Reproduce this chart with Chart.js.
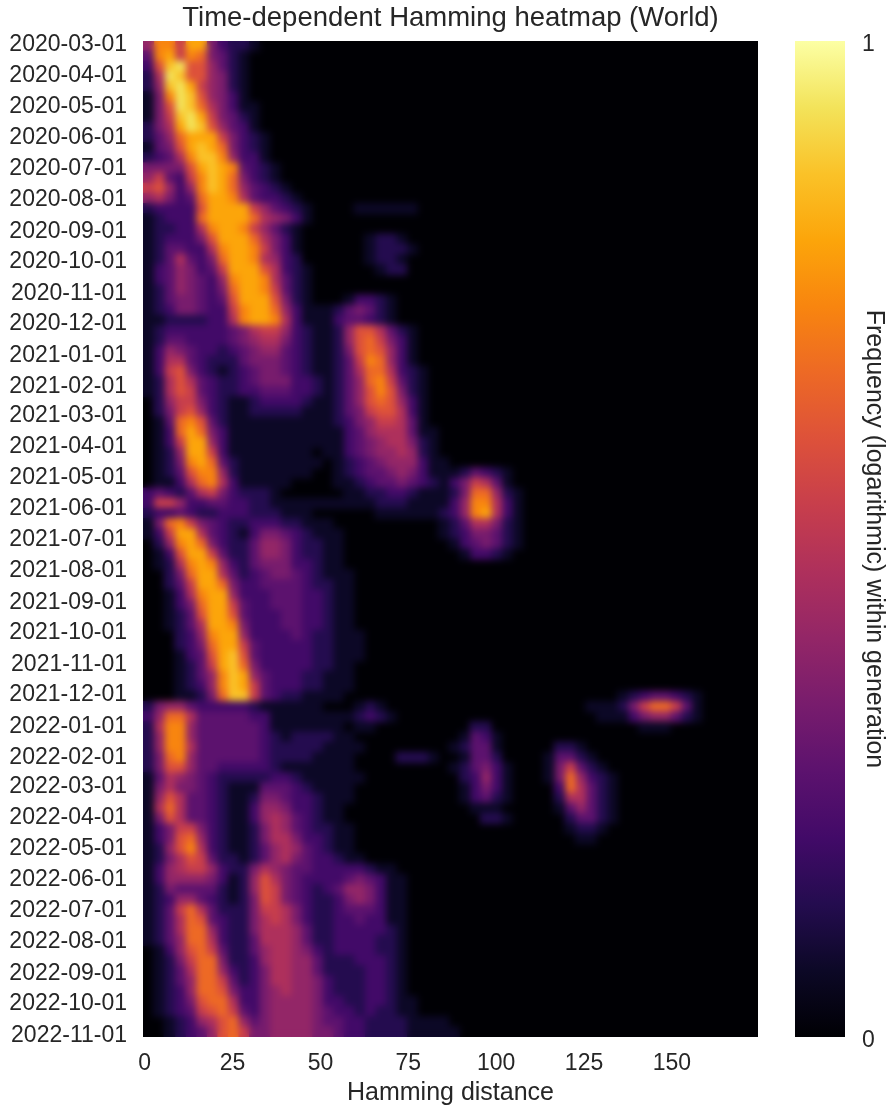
<!DOCTYPE html>
<html>
<head>
<meta charset="utf-8">
<title>Time-dependent Hamming heatmap (World)</title>
<script src="https://cdn.jsdelivr.net/npm/chart.js@4"></script>
<style>
  html, body { margin: 0; background: #fff; }
  #page { position: relative; width: 889px; height: 1108px; overflow: hidden; }
  canvas { position: absolute; top: 0; }
  #heat { left: 0; }
  #bar { left: 770px; }
</style>
</head>
<body>
<div id="page">
  <canvas id="heat" width="770" height="1108"></canvas>
  <canvas id="bar" width="119" height="1108"></canvas>
</div>
<script>
const monthLabels = [
    '2020-03-01', '2020-04-01', '2020-05-01', '2020-06-01', '2020-07-01', '2020-08-01', '2020-09-01',
    '2020-10-01', '2020-11-01', '2020-12-01', '2021-01-01', '2021-02-01', '2021-03-01', '2021-04-01',
    '2021-05-01', '2021-06-01', '2021-07-01', '2021-08-01', '2021-09-01', '2021-10-01', '2021-11-01',
    '2021-12-01', '2022-01-01', '2022-02-01', '2022-03-01', '2022-04-01', '2022-05-01', '2022-06-01',
    '2022-07-01', '2022-08-01', '2022-09-01', '2022-10-01', '2022-11-01'
];
const xTickValues = [0, 25, 50, 75, 100, 125, 150];
const barTickValues = [0, 1];

// one string per 10 days, one hex digit per 3 Hamming units, level 0-f
const heat2020 = [
    '6bb8cc5322 1',
    '4bc8ba5421',
    '39de996421',
    '27ed996521',
    '26dec86521',
    '15bed96531',
    '159eda7531 1',
    '158dec8542 1',
    '257ced9643 1',
    '246accc853 21',
    '1459cdca53 21',
    '2347bddb63 31',
    '55559cdcb4 321',
    '68438bdca5 321',
    '89636bdca6 4321',
    '67534accb7 43321',
    '233339cccc 8643210000 111111',
    '12333acccc a76531',
    '122337bccb 86421',
    '1233359ccc a753100000 01221',
    '1244337bcc b853100000 01222 1',
    '1247435acc b763200000 01221',
    '13465348cc c973210000 00122',
    '13465436bc cb7421',
    '12465435ac cb8421',
    '124554349c cc95210001 3321',
    '123554338b cca6311124 5421',
    '112222337b ccb7311134 4321',
    '1233333345 7886321126 997421',
    '1244333345 6775321126 9a8531',
    '1365433234 5664321125 9a9631'
];
const heat2021 = [
    '1377432224 5554321124 8ba631',
    '1389532123 4554321124 7aa7321',
    '1279743223 4555332124 6ab8421',
    '1279843223 3444332124 69b9521',
    '0268853211 2333321124 69a9631',
    '0258963211 2222211124 5899731',
    '014ab94211 1111111123 5688741',
    '013aca5311 1111111113 46777411',
    '0138cc6311 1111111113 45677521',
    '0126cc8311 1111110113 45667621',
    '0125bca421 1111111012 34566631 1',
    '01249bb621 1111110012 3445653111 24321',
    '01137ab731 1111000011 2344543213 58741',
    '3432478532 2210000001 1223321112 5aa621',
    '3886334433 2211111111 1122211113 6bb731',
    '2334322333 2221110000 0011111123 6bc731',
    '15ab854322 3332211100 0000000012 477521',
    '138cc74321 3554321110 0000000012 355421',
    '026bca5322 4665322110 0000000001 345421',
    '0139cc8422 4665322110 0000000000 13321',
    '0127bcb632 4555332 11',
    '0025acc742 3455432111',
    '00248cca53 3444432211',
    '00137bcc63 3344433211',
    '00135acc84 3344433211',
    '001249cc94 3334433211',
    '001247ccb5 3334433211',
    '000236bcc6 3333432211 1',
    '000235acc8 4333332211 1',
    '0001349cd9 4333332211 1',
    '0001248cda 5333332211',
    '0001246bdc 6433322111',
    '0001236bdc 8433322111',
    '0001125add 8432211110 0000000000 0000000000 0000012344 321',
    '2566433333 2111111000 1210000000 0000000000 0011125 8aa 841',
    '36aa744444 3311111111 2321000000 0000000000 0001113566 421'
];
const heat2022 = [
    '27bb644444 4311111110 1100000000 0220000000 0000000111',
    '26bb644444 4321222211 0000000000 1431',
    '26bb744444 4322222111 1000000001 2441000002 21',
    '25ab644444 4322221111 0000222100 1442000014 421',
    '2599644333 3321111111 0000000001 2453100015 8421',
    '1476543222 2233211111 1000000000 2363100015 a6321',
    '1575543211 1444321111 0000000000 1353100003 a7421',
    '1697443211 2554332111 0000000000 1342100002 77421',
    '17a7443211 3665332110 0000000000 0111000001 46421',
    '1597443211 3676432110 0000000000 0022100000 24421',
    '1358853211 2576432211 0000000000 0000000000 1221',
    '1359a63211 2577533211 0000000000 0000000000 011',
    '1269b73211 2467643211',
    '1257984221 2467543321 1',
    '1367886322 5765443333 3211',
    '1366665312 6975433334 54311',
    '1254444212 6985432346 65311',
    '1236643212 5985432235 65311',
    '1248a74222 5887532234 44311',
    '1247a94322 5787532233 43311',
    '1247aa6322 5777642233 33321',
    '1246aa7322 4777642233 33221',
    '01369a8422 4677653233 33221',
    '01258aa522 3677664222 33321',
    '01247aa632 3577664222 23321',
    '01246aa842 3577665322 23321',
    '01236aa953 3567665322 23321',
    '012359aa73 3566665332 233211',
    '0123489a84 3566665433 232211',
    '00123679a6 4566665443 3222211 11',
    '00123469a8 5566665543 3222211 111'
];

// inferno colours, one per level
const levelColors = [
    '#000004', '#0c0826', '#240c4f', '#420a68', '#5c126e', '#781c6d', '#932667', '#ae305c',
    '#c73e4c', '#dd513a', '#ed6925', '#f8850f', '#fca50a', '#fac228', '#f3e35a', '#fcffa4'
];
const textColor = '#262626';
const fontFamily = '"Liberation Sans", Arial, sans-serif';

const heatRows = heat2020.concat(heat2021, heat2022);
const DAYS_PER_ROW = 10;
const UNITS_PER_COL = 3;

const monthDays = monthLabels.map(label =>
    Math.round((Date.parse(label) - Date.parse(monthLabels[0])) / 86400000));

// every column of the heatmap is one dataset of floating bars
function buildColumns() {
    const columns = [];
    heatRows.forEach((row, r) => {
        const digits = row.replace(/ /g, '');
        for (let c = 0; c < digits.length; c++) {
            const level = parseInt(digits[c], 16);
            if (!level) continue;
            if (!columns[c]) columns[c] = [];
            columns[c].push({
                x: [c * UNITS_PER_COL - 0.5, (c + 1) * UNITS_PER_COL - 0.5],
                y: r * DAYS_PER_ROW + DAYS_PER_ROW / 2 - 0.5,
                level: level
            });
        }
    });
    return columns.filter(Boolean).map(points => ({
        data: points,
        backgroundColor: ctx => levelColors[ctx.raw ? ctx.raw.level : 0],
        borderWidth: 0,
        inflateAmount: 0.6,
        grouped: false,
        categoryPercentage: 1,
        barPercentage: 1
    }));
}

const plotBackground = {
    id: 'plotBackground',
    beforeDatasetsDraw(chart) {
        const a = chart.chartArea;
        chart.ctx.fillStyle = '#000004';
        chart.ctx.fillRect(a.left, a.top, a.width, a.height);
    }
};

// the reference looks smooth, so soften the cell edges once they are drawn
const softenCells = {
    id: 'softenCells',
    afterDatasetsDraw(chart) {
        const a = chart.chartArea;
        const copy = document.createElement('canvas');
        copy.width = a.width;
        copy.height = a.height;
        copy.getContext('2d').drawImage(chart.canvas, a.left, a.top, a.width, a.height, 0, 0, a.width, a.height);
        const ctx = chart.ctx;
        ctx.save();
        ctx.beginPath();
        ctx.rect(a.left, a.top, a.width, a.height);
        ctx.clip();
        ctx.filter = 'blur(3.5px)';
        ctx.drawImage(copy, a.left, a.top);
        ctx.restore();
    }
};

new Chart(document.getElementById('heat'), {
    type: 'bar',
    data: { datasets: buildColumns() },
    plugins: [plotBackground, softenCells],
    options: {
        indexAxis: 'y',
        responsive: false,
        animation: false,
        layout: { padding: { right: 12 } },
        plugins: {
            legend: { display: false },
            tooltip: { enabled: false },
            title: {
                display: true,
                fullSize: false,
                text: 'Time-dependent Hamming heatmap (World)',
                color: textColor,
                font: { family: fontFamily, size: 27.5, weight: 'normal', lineHeight: 1.2 },
                padding: { top: 2, bottom: 6 }
            }
        },
        scales: {
            x: {
                type: 'linear',
                position: 'bottom',
                min: -0.5,
                max: 174.5,
                grid: { display: false, drawTicks: false },
                border: { display: false },
                afterBuildTicks(scale) { scale.ticks = xTickValues.map(v => ({ value: v })); },
                afterFit(scale) { scale.height = 71; },
                ticks: {
                    color: textColor,
                    font: { family: fontFamily, size: 23 },
                    padding: 13,
                    autoSkip: false,
                    maxRotation: 0,
                    callback: value => String(value)
                },
                title: {
                    display: true,
                    text: 'Hamming distance',
                    color: textColor,
                    font: { family: fontFamily, size: 25 },
                    padding: { top: 0, bottom: 0 }
                }
            },
            y: {
                type: 'linear',
                position: 'left',
                reverse: true,
                offset: false,
                min: -0.5,
                max: 979.5,
                grid: { display: false, drawTicks: false, offset: false },
                border: { display: false },
                afterBuildTicks(scale) { scale.ticks = monthDays.map(v => ({ value: v })); },
                afterFit(scale) { scale.width = 143; },
                ticks: {
                    color: textColor,
                    font: { family: fontFamily, size: 23 },
                    padding: 16,
                    labelOffset: 3,
                    autoSkip: false,
                    callback: value => monthLabels[monthDays.indexOf(value)]
                }
            }
        }
    }
});

new Chart(document.getElementById('bar'), {
    type: 'bar',
    data: {
        labels: [''],
        datasets: [{
            data: [[0, 1]],
            borderWidth: 0,
            categoryPercentage: 1,
            barPercentage: 1,
            backgroundColor(ctx) {
                const a = ctx.chart.chartArea;
                if (!a) return levelColors[0];
                const g = ctx.chart.ctx.createLinearGradient(0, a.bottom, 0, a.top);
                levelColors.forEach((color, i) => g.addColorStop(i / (levelColors.length - 1), color));
                return g;
            }
        }]
    },
    options: {
        responsive: false,
        animation: false,
        layout: { padding: { left: 25, top: 41, bottom: 71 } },
        plugins: { legend: { display: false }, tooltip: { enabled: false } },
        scales: {
            x: { display: false },
            y: {
                type: 'linear',
                position: 'right',
                min: 0,
                max: 1,
                grid: { display: false, drawTicks: false },
                border: { display: false },
                afterBuildTicks(scale) { scale.ticks = barTickValues.map(v => ({ value: v })); },
                afterFit(scale) { scale.width = 44; },
                ticks: {
                    color: textColor,
                    font: { family: fontFamily, size: 23 },
                    padding: 17,
                    labelOffset: 4,
                    autoSkip: false,
                    callback: value => String(value)
                },
                title: {
                    display: true,
                    text: 'Frequency (logarithmic) within generation',
                    color: textColor,
                    font: { family: fontFamily, size: 25 },
                    padding: { top: 0, bottom: 0 }
                }
            }
        }
    }
});
</script>
</body>
</html>
